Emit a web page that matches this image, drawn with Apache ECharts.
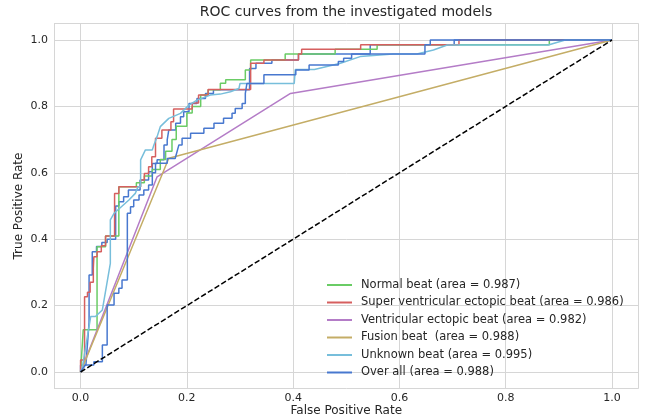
<!DOCTYPE html>
<html>
<head>
<meta charset="utf-8">
<script src="https://cdn.jsdelivr.net/npm/echarts@6/dist/echarts.min.js"></script>
<style>
html,body{margin:0;padding:0;background:#fff;}
#chart{width:646px;height:420px;}
</style>
</head>
<body>
<div id="chart"></div>
<script>
// ---- data (fpr, tpr) ----
const seriesNames = [
  'Normal beat (area = 0.987)',
  'Super ventricular ectopic beat (area = 0.986)',
  'Ventricular ectopic beat (area = 0.982)',
  'Fusion beat  (area = 0.988)',
  'Unknown beat (area = 0.995)',
  'Over all (area = 0.988)'
];
const firstCurve = [[0,0],[0,0.02],[0.01,0.02],[0.016,0.15],[0.016,0.292],[0.022,0.292],[0.022,0.362],[0.03,0.362],[0.03,0.378],[0.04,0.378],[0.04,0.39],[0.05,0.39],[0.05,0.4],[0.066,0.4],[0.066,0.5],[0.072,0.5],[0.072,0.513],[0.081,0.513],[0.081,0.528],[0.09,0.528],[0.09,0.548],[0.112,0.548],[0.112,0.578],[0.128,0.578],[0.128,0.603],[0.135,0.603],[0.135,0.628],[0.144,0.628],[0.144,0.639],[0.157,0.639],[0.157,0.684],[0.163,0.684],[0.163,0.699],[0.166,0.699],[0.166,0.729],[0.179,0.729],[0.179,0.749],[0.188,0.749],[0.188,0.769],[0.194,0.769],[0.194,0.784],[0.204,0.784],[0.204,0.809],[0.219,0.809],[0.219,0.824],[0.235,0.824],[0.235,0.839],[0.25,0.839],[0.25,0.85],[0.318,0.85],[0.318,0.914],[0.33,0.914],[0.33,0.93],[0.36,0.93],[0.36,0.94],[0.41,0.94],[0.41,0.958],[0.545,0.958],[0.545,0.986],[0.703,0.986],[0.703,1],[1,1]];
const normalBeat = [[0,0],[0.005,0.127],[0.031,0.127],[0.031,0.377],[0.047,0.377],[0.047,0.41],[0.072,0.41],[0.072,0.558],[0.105,0.558],[0.105,0.57],[0.12,0.57],[0.12,0.59],[0.135,0.59],[0.135,0.61],[0.15,0.61],[0.15,0.64],[0.16,0.64],[0.16,0.665],[0.172,0.665],[0.172,0.7],[0.18,0.7],[0.18,0.74],[0.2,0.74],[0.2,0.78],[0.21,0.78],[0.21,0.8],[0.226,0.8],[0.226,0.834],[0.24,0.834],[0.24,0.85],[0.263,0.85],[0.263,0.87],[0.273,0.87],[0.273,0.88],[0.31,0.88],[0.31,0.91],[0.32,0.91],[0.32,0.94],[0.385,0.94],[0.385,0.958],[0.479,0.958],[0.479,0.972],[0.558,0.972],[0.558,0.986],[0.882,0.986],[0.882,1],[1,1]];
const superVentricular = [[0,0],[0,0.036],[0.0075,0.036],[0.0075,0.227],[0.013,0.227],[0.013,0.24],[0.018,0.24],[0.018,0.27],[0.024,0.27],[0.024,0.313],[0.025,0.313],[0.025,0.347],[0.031,0.347],[0.031,0.362],[0.039,0.362],[0.039,0.38],[0.047,0.38],[0.047,0.41],[0.064,0.41],[0.064,0.538],[0.072,0.538],[0.072,0.558],[0.113,0.558],[0.113,0.578],[0.12,0.578],[0.12,0.598],[0.128,0.598],[0.128,0.618],[0.134,0.618],[0.134,0.648],[0.141,0.648],[0.141,0.704],[0.153,0.704],[0.153,0.729],[0.17,0.729],[0.17,0.754],[0.175,0.754],[0.175,0.792],[0.21,0.792],[0.21,0.81],[0.222,0.81],[0.222,0.834],[0.24,0.834],[0.24,0.851],[0.32,0.851],[0.32,0.93],[0.345,0.93],[0.345,0.94],[0.41,0.94],[0.41,0.958],[0.416,0.958],[0.416,0.972],[0.527,0.972],[0.527,0.986],[0.712,0.986],[0.712,1],[1,1]];
const ventricularEctopic = [[0,0],[0.144,0.588],[0.395,0.839],[1,1]];
const fusionBeat = [[0,0],[0.166,0.644],[1,1]];
const unknownBeat = [[0,0],[0.003,0.011],[0.019,0.167],[0.028,0.167],[0.041,0.187],[0.056,0.327],[0.056,0.458],[0.063,0.478],[0.091,0.518],[0.103,0.538],[0.108,0.558],[0.113,0.558],[0.113,0.639],[0.122,0.669],[0.135,0.669],[0.138,0.684],[0.144,0.709],[0.15,0.739],[0.166,0.764],[0.188,0.779],[0.204,0.804],[0.219,0.819],[0.244,0.834],[0.263,0.837],[0.282,0.844],[0.298,0.854],[0.3,0.869],[0.402,0.869],[0.404,0.911],[0.44,0.911],[0.489,0.93],[0.526,0.95],[0.588,0.958],[0.633,0.958],[0.664,0.97],[0.69,0.985],[0.88,0.985],[0.912,1],[1,1]];
const overAll = [[0,0],[0.009,0.021],[0.025,0.021],[0.025,0.031],[0.041,0.031],[0.041,0.081],[0.05,0.081],[0.05,0.202],[0.063,0.202],[0.063,0.237],[0.072,0.237],[0.072,0.252],[0.078,0.252],[0.078,0.277],[0.088,0.277],[0.088,0.478],[0.094,0.478],[0.094,0.498],[0.1,0.498],[0.1,0.518],[0.11,0.518],[0.11,0.533],[0.119,0.533],[0.119,0.548],[0.128,0.548],[0.128,0.563],[0.135,0.563],[0.135,0.6],[0.141,0.6],[0.141,0.629],[0.163,0.629],[0.163,0.643],[0.178,0.643],[0.185,0.684],[0.191,0.684],[0.191,0.704],[0.207,0.704],[0.207,0.719],[0.232,0.719],[0.232,0.734],[0.251,0.734],[0.251,0.749],[0.269,0.749],[0.269,0.764],[0.285,0.764],[0.285,0.779],[0.291,0.779],[0.291,0.794],[0.304,0.794],[0.304,0.809],[0.31,0.809],[0.31,0.839],[0.313,0.839],[0.313,0.869],[0.345,0.869],[0.345,0.895],[0.405,0.895],[0.405,0.91],[0.43,0.91],[0.43,0.925],[0.485,0.925],[0.485,0.935],[0.495,0.935],[0.495,0.945],[0.51,0.945],[0.51,0.958],[0.648,0.958],[0.648,0.986],[0.658,0.986],[0.658,1],[1,1]];
const chanceLine = [[0,0],[1,1]];

const colors = ['#6ACC65','#D65F5F','#B47CC7','#C4AD66','#77BEDB','#4878CF'];
const curveData = [normalBeat, superVentricular, ventricularEctopic, fusionBeat, unknownBeat, overAll];

const FONT = 'DejaVu Sans';
const TXT = '#262626';

const series = [];
series.push({
  name: 'first', type: 'line', data: firstCurve, symbol: 'none', silent: true,
  lineStyle: {color: '#4878CF', width: 1.5}, itemStyle: {color: '#4878CF'}, animation: false
});
curveData.forEach((d, i) => {
  series.push({
    name: seriesNames[i], type: 'line', data: d, symbol: 'none',
    lineStyle: {color: colors[i], width: 1.5}, itemStyle: {color: colors[i]}, animation: false
  });
});
series.push({
  name: 'chance', type: 'line', data: chanceLine, symbol: 'none',
  lineStyle: {color: '#000', width: 1.5, type: [5.5, 2.4]}, animation: false
});

const fmt = v => (Math.abs(v * 5 - Math.round(v * 5)) > 1e-6) ? '' : v.toFixed(1);

const chart = echarts.init(document.getElementById('chart'), null, {renderer: 'canvas'});
chart.setOption({
  backgroundColor: '#fff',
  animation: false,
  title: {
    text: 'ROC curves from the investigated models',
    left: 346, top: 5, padding: 0, textAlign: 'center',
    textStyle: {fontFamily: FONT, fontSize: 14, fontWeight: 'normal', color: TXT}
  },
  legend: {
    data: seriesNames,
    orient: 'vertical', left: 327, top: 278, padding: 0,
    icon: 'rect',
    itemWidth: 25, itemHeight: 2, itemGap: 3.5,
    textStyle: {fontFamily: FONT, fontSize: 11.5, color: TXT, lineHeight: 14, padding: [0, 0, 0, 4]}
  },
  grid: {left: 54, right: 7.4, top: 23.4, bottom: 31.4, containLabel: false, outerBoundsMode: 'none'},
  xAxis: {
    type: 'value', min: -0.05, max: 1.05, splitNumber: 5,
    name: 'False Positive Rate', nameLocation: 'middle', nameGap: 16, nameMoveOverlap: false,
    nameTextStyle: {fontFamily: FONT, fontSize: 12, color: TXT},
    axisLine: {show: false}, axisTick: {show: false},
    axisLabel: {formatter: fmt, fontFamily: FONT, fontSize: 11, color: TXT, margin: 4, showMinLabel: true, showMaxLabel: true},
    splitLine: {show: true, lineStyle: {color: '#d6d6d6', width: 1}}
  },
  yAxis: {
    type: 'value', min: -0.05, max: 1.05, splitNumber: 5,
    name: 'True Positive Rate', nameLocation: 'middle', nameGap: 29, nameMoveOverlap: false,
    nameTextStyle: {fontFamily: FONT, fontSize: 12, color: TXT},
    axisLine: {show: false}, axisTick: {show: false},
    axisLabel: {formatter: fmt, fontFamily: FONT, fontSize: 11, color: TXT, margin: 6},
    splitLine: {show: true, lineStyle: {color: '#d6d6d6', width: 1}}
  },
  series: series
});
</script>
</body>
</html>
